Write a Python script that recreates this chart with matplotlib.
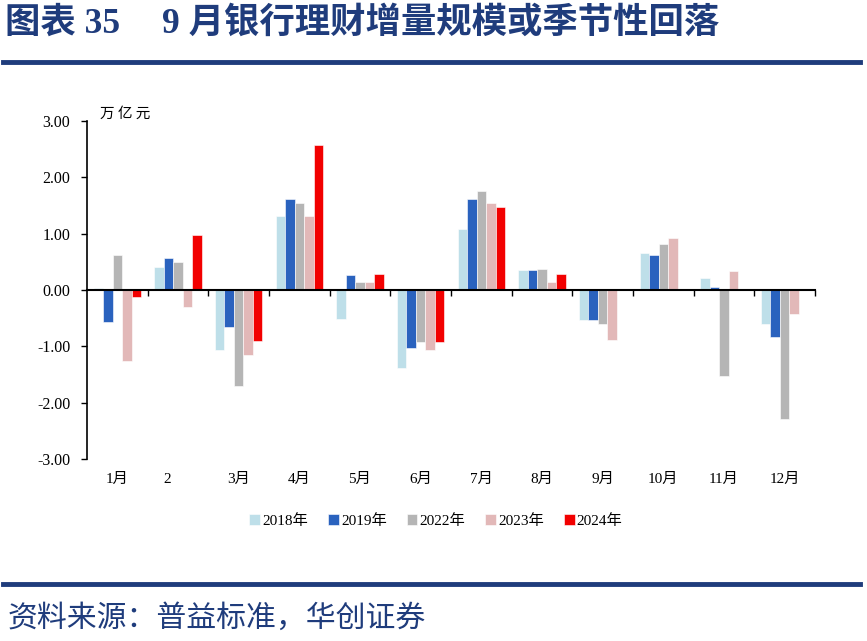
import matplotlib
matplotlib.use("Agg")
import matplotlib.pyplot as plt
import numpy as np

months = ["1月", "2", "3月", "4月", "5月", "6月", "7月", "8月", "9月", "10月", "11月", "12月"]
series_names = ["2018年", "2019年", "2022年", "2023年", "2024年"]
v2018 = [0.03, 0.40, -1.06, 1.32, -0.52, -1.39, 1.09, 0.36, -0.54, 0.66, 0.21, -0.60]
v2019 = [-0.56, 0.56, -0.66, 1.61, 0.26, -1.03, 1.61, 0.36, -0.54, 0.63, 0.05, -0.84]
v2022 = [0.63, 0.50, -1.70, 1.54, 0.15, -0.93, 1.75, 0.38, -0.60, 0.81, -1.52, -2.29]
v2023 = [-1.26, -0.30, -1.16, 1.32, 0.15, -1.06, 1.54, 0.15, -0.89, 0.93, 0.34, -0.42]
v2024 = [-0.13, 0.97, -0.90, 2.58, 0.28, -0.93, 1.48, 0.28, np.nan, np.nan, np.nan, np.nan]
yticks = [3.0, 2.0, 1.0, 0.0, -1.0, -2.0, -3.0]

colors = ["#BEDFE9", "#2A62BE", "#B5B5B5", "#E2B8B8", "#F20000"]
navy = "#1F3C7C"

serif = ["Liberation Serif", "Noto Sans CJK SC"]
cjk = ["Noto Sans CJK SC", "DejaVu Sans"]

fig = plt.figure(figsize=(8.67, 6.41), dpi=100)
ax = fig.add_axes([87 / 867, 1 - 459 / 641, 728 / 867, 338 / 641])

x = np.arange(len(months))
w = 0.157
allvals = [v2018, v2019, v2022, v2023, v2024]
for k, (vals, c, name) in enumerate(zip(allvals, colors, series_names)):
    ax.bar(x + (k - 2) * w, vals, width=w, color=c, edgecolor="white",
           linewidth=0.4, label=name, zorder=2)

ax.set_xlim(-0.5, len(months) - 0.5)
ax.set_ylim(-3.0, 3.0)
ax.set_yticks(yticks)
ax.set_yticklabels([f"{t:.2f}" for t in yticks], fontfamily=serif, fontsize=11.5)
ax.tick_params(axis="y", direction="out", length=4, width=1, pad=8)

for s in ["top", "right"]:
    ax.spines[s].set_visible(False)
ax.spines["left"].set_linewidth(1.2)
ax.spines["bottom"].set_position(("data", 0))
ax.spines["bottom"].set_linewidth(1.5)
ax.spines["bottom"].set_zorder(3)
ax.set_xticks(np.append(x[:-1] + 0.5, len(months) - 0.5))
ax.set_xticklabels([])
ax.tick_params(axis="x", direction="out", length=4, width=1)

for i, m in enumerate(months):
    dx = -0.17 if m == "2" else 0
    ax.text(i + dx, -0.06, m, transform=ax.get_xaxis_transform(),
            ha="center", va="center", fontsize=11, fontfamily=serif)

ax.text(0.018, 1.0, "万 亿 元", transform=ax.transAxes, ha="left", va="bottom",
        fontsize=10.5, fontfamily=cjk)

leg = fig.legend(loc="center", bbox_to_anchor=(436 / 867, 1 - 521 / 641), ncol=5,
                 frameon=False, handlelength=0.7, handleheight=0.7,
                 handletextpad=0.15, columnspacing=1.3,
                 prop={"family": serif, "size": 11})

title_font = ["Liberation Serif", "Noto Sans CJK SC"]
fig.text(5 / 867, 1 - 24 / 641, "图表 35", ha="left", va="center", fontsize=25.5,
         fontweight="bold", color=navy, fontfamily=title_font)
fig.text(162 / 867, 1 - 24 / 641, "9 月银行理财增量规模或季节性回落",
         ha="left", va="center", fontsize=25.5, fontweight="bold",
         color=navy, fontfamily=title_font)
fig.add_artist(plt.Line2D([3 / 867, 860 / 867], [1 - 62 / 641, 1 - 62 / 641],
                          color=navy, linewidth=3.5))
fig.add_artist(plt.Line2D([3 / 867, 860 / 867], [1 - 584 / 641, 1 - 584 / 641],
                          color=navy, linewidth=3.5))
fig.text(8 / 867, 1 - 618 / 641, "资料来源：普益标准，华创证券",
         ha="left", va="center", fontsize=21.5, color=navy, fontfamily=cjk)

fig.savefig("out.png", dpi=100, facecolor="white")
